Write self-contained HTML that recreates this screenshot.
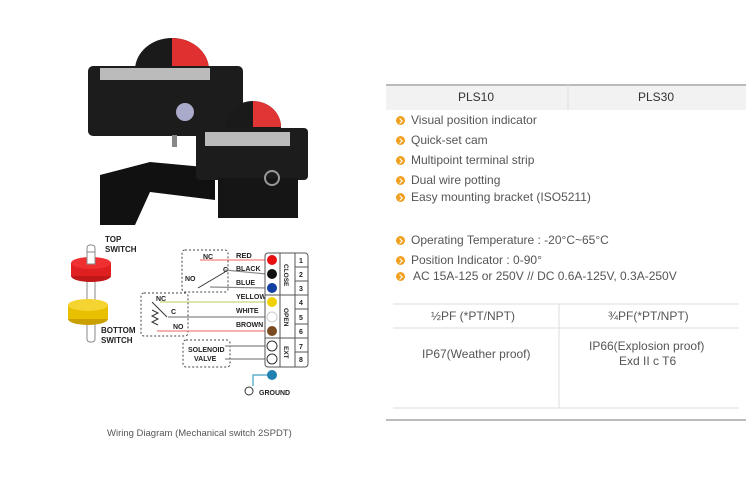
<!DOCTYPE html>
<html><head><meta charset="utf-8"><style>
body{margin:0;width:756px;height:488px;background:#fff;overflow:hidden;font-family:"Liberation Sans","Noto Sans CJK KR",sans-serif;position:relative}
.t{position:absolute;font-size:12px;color:#555;white-space:nowrap}
.b{position:absolute;width:9px;height:9px;border-radius:50%;background:#f0a020}
.b:after{content:"";position:absolute;left:2px;top:2.5px;width:3px;height:3px;border-right:1.3px solid #fff;border-top:1.3px solid #fff;transform:rotate(45deg)}
</style></head><body>
<svg width="756" height="488" style="position:absolute;left:0;top:0" font-family="Liberation Sans, sans-serif">
<!-- products -->
<ellipse cx="172" cy="70" rx="37" ry="32" fill="#1a1a1a"/>
<path d="M172 38 A37 32 0 0 1 209 70 L172 70Z" fill="#e03030"/>
<rect x="88" y="66" width="155" height="70" rx="5" fill="#1c1c1c"/>
<rect x="100" y="68" width="110" height="12" fill="#bbb"/>
<circle cx="185" cy="112" r="9" fill="#aac"/>
<rect x="172" y="135" width="5" height="12" fill="#888"/>
<path d="M100 175 L150 162 L215 168 L215 200 L150 192 L135 225 L100 225Z" fill="#111"/>
<ellipse cx="253" cy="127" rx="28" ry="26" fill="#1a1a1a"/>
<path d="M253 101 A28 26 0 0 1 281 127 L253 127Z" fill="#e03535"/>
<rect x="196" y="128" width="112" height="52" rx="4" fill="#1c1c1c"/>
<rect x="205" y="132" width="85" height="14" fill="#bbb"/>
<rect x="218" y="178" width="80" height="40" fill="#151515"/>
<circle cx="272" cy="178" r="7" fill="none" stroke="#999" stroke-width="2"/>
<!-- switch -->
<rect x="87" y="245" width="8" height="97" rx="3" fill="#fff" stroke="#888"/>
<ellipse cx="91" cy="276" rx="20" ry="6" fill="#c01818"/>
<rect x="71" y="263" width="40" height="13" fill="#e02020"/>
<ellipse cx="91" cy="263" rx="20" ry="6" fill="#f03030"/>
<rect x="87" y="252" width="8" height="12" fill="#fff" stroke="#888"/>
<ellipse cx="88" cy="319" rx="20" ry="6" fill="#c9a000"/>
<rect x="68" y="305" width="40" height="14" fill="#e8c000"/>
<ellipse cx="88" cy="305" rx="20" ry="6" fill="#f4d430"/>
<g font-size="8" font-weight="bold" fill="#222">
<text x="105" y="242">TOP</text><text x="105" y="252">SWITCH</text>
<text x="101" y="333">BOTTOM</text><text x="101" y="343">SWITCH</text>
</g>
<!-- dashed boxes -->
<g fill="none" stroke="#444" stroke-dasharray="2,2">
<rect x="182" y="250" width="46" height="42" rx="3"/>
<rect x="141" y="293" width="47" height="43" rx="3"/>
<rect x="183" y="340" width="47" height="27" rx="3"/>
</g>
<!-- wires -->
<g stroke-width="1.2">
<line x1="200" y1="260" x2="266" y2="260" stroke="#f08080"/>
<line x1="225" y1="270" x2="266" y2="274" stroke="#888"/>
<line x1="210" y1="287" x2="266" y2="288" stroke="#888"/>
<line x1="160" y1="302" x2="266" y2="302" stroke="#c8d878"/>
<line x1="168" y1="317" x2="266" y2="317" stroke="#888"/>
<line x1="157" y1="331" x2="266" y2="331" stroke="#f08080"/>
<line x1="225" y1="346" x2="266" y2="346" stroke="#888"/>
<line x1="225" y1="359" x2="266" y2="359" stroke="#888"/>
<polyline points="272,375 253,375 253,386" fill="none" stroke="#40a0c0"/>
</g>
<g stroke="#333" fill="none" stroke-width="1">
<line x1="198" y1="288" x2="225" y2="272"/>
<line x1="152" y1="302" x2="167" y2="317"/>
<path d="M152 310 l6 3 -6 3 6 3 -6 3 6 3"/>
</g>
<g font-size="7" fill="#222" font-weight="bold">
<text x="203" y="259">NC</text><text x="185" y="281">NO</text><text x="223" y="272">C</text>
<text x="156" y="301">NC</text><text x="171" y="314">C</text><text x="173" y="329">NO</text>
<text x="236" y="258" font-size="7.5">RED</text><text x="236" y="271">BLACK</text><text x="236" y="285">BLUE</text>
<text x="236" y="299">YELLOW</text><text x="236" y="313">WHITE</text><text x="236" y="327">BROWN</text>
<text x="188" y="352">SOLENOID</text><text x="194" y="361">VALVE</text>
<text x="259" y="395">GROUND</text>
</g>
<!-- terminal block -->
<rect x="265" y="253" width="43" height="114" rx="3" fill="#fff" stroke="#555"/>
<line x1="280" y1="253" x2="280" y2="367" stroke="#555"/>
<line x1="295" y1="253" x2="295" y2="367" stroke="#555"/>
<g stroke="#555"><line x1="265" y1="295" x2="308" y2="295"/><line x1="265" y1="338" x2="308" y2="338"/>
<line x1="295" y1="267" x2="308" y2="267"/><line x1="295" y1="281" x2="308" y2="281"/><line x1="295" y1="309" x2="308" y2="309"/><line x1="295" y1="324" x2="308" y2="324"/><line x1="295" y1="352" x2="308" y2="352"/></g>
<circle cx="272" cy="260" r="5" fill="#e81010"/><circle cx="272" cy="274" r="5" fill="#111"/><circle cx="272" cy="288" r="5" fill="#1040a0"/>
<circle cx="272" cy="302" r="5" fill="#f0d000"/><circle cx="272" cy="317" r="5" fill="#fff" stroke="#ccc"/><circle cx="272" cy="331" r="5" fill="#7a4a20"/>
<circle cx="272" cy="346" r="5" fill="#fff" stroke="#333"/><circle cx="272" cy="359" r="5" fill="#fff" stroke="#333"/>
<circle cx="272" cy="375" r="5" fill="#2080b0"/>
<circle cx="249" cy="391" r="4" fill="none" stroke="#333"/>
<g font-size="7" fill="#222" font-weight="bold">
<text x="299" y="263">1</text><text x="299" y="277">2</text><text x="299" y="291">3</text><text x="299" y="305">4</text><text x="299" y="320">5</text><text x="299" y="334">6</text><text x="299" y="349">7</text><text x="299" y="362">8</text>
<text transform="translate(284,264) rotate(90)" font-size="6.5">CLOSE</text>
<text transform="translate(284,308) rotate(90)" font-size="6.5">OPEN</text>
<text transform="translate(284,346) rotate(90)" font-size="6.5">EXT</text>
</g>
<text x="107" y="436" font-size="9.5" fill="#555">Wiring Diagram (Mechanical switch 2SPDT)</text>
<!-- tables -->
<rect x="386" y="85" width="360" height="25" fill="#f2f2f2"/>
<line x1="386" y1="85" x2="746" y2="85" stroke="#bbb" stroke-width="2"/>
<line x1="568" y1="85" x2="568" y2="110" stroke="#ddd"/>
<line x1="393" y1="304" x2="739" y2="304" stroke="#ddd"/>
<line x1="393" y1="328" x2="739" y2="328" stroke="#ddd"/>
<line x1="393" y1="408" x2="739" y2="408" stroke="#ddd"/>
<line x1="559" y1="304" x2="559" y2="408" stroke="#ddd"/>
<line x1="386" y1="420" x2="746" y2="420" stroke="#bbb" stroke-width="2"/>
</svg>
<div class="t" style="left:458px;top:90px;color:#333">PLS10</div>
<div class="t" style="left:638px;top:90px;color:#333">PLS30</div>
<div class="b" style="left:396px;top:116px"></div><div class="t" style="left:411px;top:113px">Visual position indicator</div>
<div class="b" style="left:396px;top:136px"></div><div class="t" style="left:411px;top:133px">Quick-set cam</div>
<div class="b" style="left:396px;top:156px"></div><div class="t" style="left:411px;top:153px">Multipoint terminal strip</div>
<div class="b" style="left:396px;top:176px"></div><div class="t" style="left:411px;top:173px">Dual wire potting</div>
<div class="b" style="left:396px;top:193px"></div><div class="t" style="left:411px;top:190px">Easy mounting bracket (ISO5211)</div>
<div class="b" style="left:396px;top:236px"></div><div class="t" style="left:411px;top:233px">Operating Temperature : -20°C~65°C</div>
<div class="b" style="left:396px;top:256px"></div><div class="t" style="left:411px;top:253px">Position Indicator : 0-90°</div>
<div class="b" style="left:396px;top:272px"></div><div class="t" style="left:413px;top:269px">AC 15A-125 or 250V // DC 0.6A-125V, 0.3A-250V</div>
<div class="t" style="left:431px;top:309px">½PF (*PT/NPT)</div>
<div class="t" style="left:608px;top:309px">¾PF(*PT/NPT)</div>
<div class="t" style="left:422px;top:347px">IP67(Weather proof)</div>
<div class="t" style="left:589px;top:339px">IP66(Explosion proof)</div>
<div class="t" style="left:619px;top:354px">Exd II c T6</div>
</body></html>
